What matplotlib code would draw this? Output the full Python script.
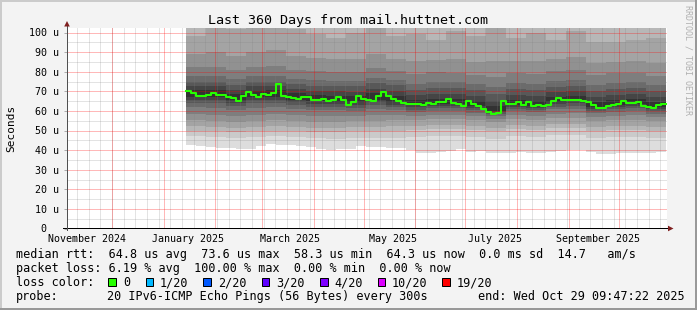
import numpy as np
import pandas as pd
import matplotlib
matplotlib.use("Agg")
import matplotlib.pyplot as plt
import matplotlib.transforms as mtransforms
from matplotlib.patches import Rectangle, Polygon
from matplotlib.ticker import NullLocator

MONO = "DejaVu Sans Mono"
W, H = 697, 310

# time window of the graph (grid lines sit on local month / week starts)
AXIS_START = pd.Timestamp("2024-11-04 05:00")
AXIS_END = pd.Timestamp("2025-10-30 05:00")
DATA_START = pd.Timestamp("2025-01-14 14:00")
Y_MAX = 102.5

# median rtt (us), one value per 3 days
median_rtt = [70.0, 69.0, 67.8, 67.6, 68.1, 69.3, 68.3, 68.1, 67.3, 66.4,
              65.2, 67.8, 69.6, 68.3, 67.1, 68.5, 68.1, 69.2, 73.6, 67.6,
              67.3, 66.8, 66.1, 67.3, 67.1, 65.6, 65.8, 65.9, 65.0, 65.6,
              67.3, 65.4, 62.9, 64.7, 67.8, 66.3, 65.4, 65.2, 67.6, 69.4,
              67.8, 66.1, 64.9, 64.0, 63.7, 63.3, 63.5, 63.0, 63.9, 63.7,
              64.7, 64.6, 66.3, 64.2, 63.3, 62.4, 64.9, 63.7, 62.6, 61.0,
              59.6, 58.6, 59.0, 65.0, 63.7, 63.5, 64.7, 63.0, 64.6, 62.6,
              63.0, 62.4, 63.0, 64.9, 66.4, 65.4, 65.4, 65.8, 65.4, 64.9,
              64.7, 63.0, 61.4, 61.5, 62.6, 63.0, 63.7, 64.9, 64.2, 64.2,
              64.7, 62.6, 62.0, 61.4, 63.0, 63.7]

# fastest ping (rank 1 of 20), one value per 6 days
ping01 = [42.6, 42.1, 41.8, 41.3, 40.9, 40.4, 40.6, 42.0, 43.1, 42.6,
          42.4, 42.1, 41.8, 40.4, 40.1, 40.4, 40.6, 42.0, 41.8, 41.5,
          40.9, 40.9, 40.1, 38.3, 38.7, 39.2, 39.7, 40.4, 39.2, 39.7,
          38.3, 38.3, 38.7, 39.2, 38.7, 38.3, 39.2, 39.5, 40.1, 40.1,
          39.2, 38.0, 38.0, 38.3, 38.7, 38.3, 38.7, 39.2]

# ping ranks 2..17, one value per 12 days (ranks 18-20 are above the scale)
ping02 = [47, 46.5, 46, 46.5, 47, 46.5, 46, 45.5, 46, 46, 46, 46.5, 47, 47, 46.5, 45.5, 47, 46.5, 47.5, 47.5, 46, 46.5, 46.5, 46]
ping03 = [50, 49.5, 49, 49.5, 50, 49.5, 49, 49, 49.5, 49.5, 50, 50.5, 51, 51, 50.5, 49.5, 51, 50.5, 51.5, 51.5, 50, 50.5, 50.5, 50]
ping04 = [52.5, 52, 51.5, 52, 52.5, 52, 51.5, 51.5, 52, 52, 52.5, 52.5, 53, 53, 52.5, 51.5, 53, 52.5, 53.5, 53.5, 52, 52.5, 52.5, 52]
ping05 = [55.5, 55, 54.5, 55, 55.5, 55, 54.5, 54.5, 55, 55, 55.5, 55.5, 56, 56, 55.5, 54.5, 56, 55.5, 56.5, 56.5, 55, 55.5, 55.5, 55]
ping06 = [58.5, 58, 57.5, 58, 58.5, 58, 57.5, 57.5, 57.5, 58, 57.8, 57.5, 58, 58, 57.5, 56, 58, 57.5, 58.5, 58.8, 57, 57.5, 57.8, 57]
ping07 = [62, 61.7, 60.5, 61.5, 62, 61, 60.5, 60.3, 60.1, 61, 60.3, 59.3, 60, 60, 59.1, 57.3, 59.7, 59.2, 60.8, 61.2, 58.7, 59.6, 59.9, 58.5]
ping08 = [64.2, 64, 62.5, 64, 64.2, 62.8, 62.2, 62, 61.7, 62.8, 61.8, 60.6, 61.4, 61.3, 60.4, 58.2, 61, 60.5, 62.2, 62.7, 60, 60.9, 61.3, 59.8]
ping09 = [65.8, 65.6, 64.1, 65.5, 65.7, 64.3, 63.6, 63.4, 63, 64.3, 63.1, 61.8, 62.6, 62.5, 61.5, 59.2, 62.2, 61.7, 63.4, 63.9, 61.2, 62.1, 62.5, 61]
ping10 = [67.2, 67, 65.5, 66.9, 67, 65.5, 64.9, 64.6, 64.3, 65.5, 64.4, 62.8, 63.6, 63.5, 62.5, 60.2, 63.1, 62.6, 64.3, 64.8, 62.1, 63, 63.4, 61.9]
ping11 = [70.6, 70.5, 68.8, 70.4, 70.5, 68.9, 68.1, 67.8, 67.4, 68.9, 67.7, 65.4, 66.2, 66.1, 65.1, 62.6, 65.7, 65.2, 66.9, 67.4, 64.7, 65.6, 66, 64.5]
ping12 = [72.6, 72.5, 70.8, 72.5, 72.5, 71, 70.2, 70, 69.7, 71.2, 70.2, 67.9, 68.7, 68.6, 67.6, 65.2, 68.2, 67.7, 69.4, 69.9, 67.2, 68.1, 68.5, 67]
ping13 = [75, 75, 73.2, 75, 75, 73.5, 72.7, 72.5, 72.5, 74, 73, 70.9, 71.7, 71.6, 70.6, 68.5, 71.2, 70.7, 72.4, 72.9, 70.2, 71.1, 71.5, 70]
ping14 = [78, 78, 76.3, 78, 78, 76.5, 75.7, 75.5, 75.5, 77, 76, 73.9, 74.7, 74.6, 73.6, 72, 74.2, 73.7, 75.4, 75.9, 73.2, 74.1, 74.5, 73]
ping15 = [82.5, 82.5, 81, 82.5, 83, 81, 80.3, 80, 80, 82, 80.5, 78.9, 79.7, 79.5, 78.5, 77.5, 79.2, 78.7, 80.4, 80.9, 78.2, 79.1, 79.5, 78]
ping16 = [89, 90, 88, 90, 91, 88, 87, 86.5, 86.5, 89, 86.5, 85.5, 86, 86.5, 85, 85.5, 85.5, 85.5, 86.5, 87.5, 84.5, 85, 85.5, 84.5]
ping17 = [98, 103, 102, 104, 105, 102, 99, 97, 100, 103, 98, 99, 96, 101, 98, 103, 97, 100, 96, 101, 95, 95, 96, 97]

Y_TICKS = [0, 10, 20, 30, 40, 50, 60, 70, 80, 90, 100]
Y_TICK_LABELS = ["0  ", "10 u", "20 u", "30 u", "40 u", "50 u", "60 u", "70 u", "80 u", "90 u", "100 u"]
MONTH_LABELS = ["November 2024", "January 2025", "March 2025", "May 2025", "July 2025", "September 2025"]
MONTH_LABEL_DATES = ["2024-11-16", "2025-01-16", "2025-03-18", "2025-05-19", "2025-07-19", "2025-09-19"]

LOSS_LABELS = ["0", "1/20", "2/20", "3/20", "4/20", "10/20", "19/20"]
LOSS_COLORS = ["#26ff00", "#00b8ff", "#0059ff", "#5e00ff", "#7e00ff", "#dd00ff", "#ff0000"]
LOSS_BOX_X = [108.3, 145.7, 203.3, 261.7, 320.0, 377.7, 442.3]
LOSS_TEXT_X = [122.8, 159.5, 217.8, 276.2, 334.5, 391.8, 456.8]

LINE_RTT = "median rtt:  64.8 us avg  73.6 us max  58.3 us min  64.3 us now  0.0 ms sd  14.7   am/s"
LINE_LOSS = "packet loss: 6.19 % avg  100.00 % max  0.00 % min  0.00 % now"


def fx(x):
    return x / W


def fy(y):
    return 1 - y / H


def edges(step_days, n):
    return DATA_START + pd.to_timedelta(np.arange(n + 1) * step_days, unit="D")


def stair(v):
    v = np.asarray(v, float)
    return np.append(v, v[-1])


fig = plt.figure(figsize=(W / 100, H / 100), dpi=100, facecolor="#f3f3f3")
ax = fig.add_axes([67 / W, 81.5 / H, 600 / W, (Y_MAX * 1.96) / H])
ax.set_facecolor("white")

# smoke: nested pairs of ping ranks, lightest outside, darkest round the median
t6 = edges(6, len(ping01))
t12 = edges(12, len(ping02))
lows = [ping02, ping03, ping04, ping05, ping06, ping07, ping08, ping09, ping10]
highs = [None, None, ping17, ping16, ping15, ping14, ping13, ping12, ping11]


def gray(i):
    g = int(190 / 10 * (10 - i)) + 50
    return "#%02x%02x%02x" % (g, g, g)


ax.fill_between(t6, stair(ping01), Y_MAX + 5, step="post", color=gray(1), lw=0, zorder=1)
for i, (lo, hi) in enumerate(zip(lows, highs), start=2):
    top = Y_MAX + 5 if hi is None else stair(hi)
    ax.fill_between(t12, stair(lo), top, step="post", color=gray(i), lw=0, zorder=1)

t3 = edges(3, len(median_rtt))
ax.step(t3, stair(median_rtt), where="post", color="#26ff00", lw=1.5, zorder=3)

ax.set_xlim(AXIS_START, AXIS_END)
ax.set_ylim(0, Y_MAX)

# faint grid: weeks (Sundays) and 5 u steps in grey, months and 10 u steps in red
thin = dict(linestyle="-", linewidth=0.72, zorder=2.5)
months = pd.date_range(AXIS_START, AXIS_END, freq="MS")
weeks = [d for d in pd.date_range(AXIS_START, AXIS_END, freq="W-SUN") if d.normalize() not in months]
for d in weeks:
    ax.axvline(d, color="#808080", alpha=0.22, **thin)
for v in range(5, 100, 10):
    ax.axhline(v, color="#808080", alpha=0.22, **thin)
for d in months:
    ax.axvline(d, color="#ff0000", alpha=0.28, **thin)
for v in Y_TICKS[1:]:
    ax.axhline(v, color="#ff0000", alpha=0.28, **thin)

ax.set_yticks(Y_TICKS)
ax.set_yticklabels(Y_TICK_LABELS)
ax.xaxis.set_major_locator(NullLocator())
ax.xaxis.set_minor_locator(NullLocator())
ax.tick_params(axis="y", which="both", length=2.2, width=0.7, color="#aaaaaa",
               pad=3.7, labelsize=7.2, labelfontfamily=MONO)
for sp in ax.spines.values():
    sp.set_visible(False)

# month labels, centred in their months
trans = mtransforms.blended_transform_factory(ax.transData, fig.transFigure)
for d, lab in zip(MONTH_LABEL_DATES, MONTH_LABELS):
    ax.text(pd.Timestamp(d), fy(241.7), lab, transform=trans, ha="center", va="baseline",
            fontsize=7.2, family=MONO, clip_on=False)

ident = mtransforms.IdentityTransform()


def px_rect(x, y, w, h, color, **kw):
    fig.add_artist(Rectangle((x, H - y - h), w, h, transform=ident, facecolor=color, **kw))


# axis lines and arrows
px_rect(63, 228, 606, 1, "black", lw=0)
px_rect(66.5, 25, 1, 206, "#505050", lw=0)
fig.add_artist(Polygon([(64.2, H - 26.5), (69.8, H - 26.5), (67, H - 21)], closed=True,
                       transform=ident, facecolor="#7f1f1f", lw=0))
fig.add_artist(Polygon([(668, H - 225.7), (668, H - 231.3), (673.5, H - 228.5)], closed=True,
                       transform=ident, facecolor="#7f1f1f", lw=0))

# frame
px_rect(0, 0, W, 2, "#cbcbcb", lw=0)
px_rect(0, 0, 2, H, "#cbcbcb", lw=0)
px_rect(W - 2, 0, 2, H, "#999999", lw=0)
px_rect(0, H - 2, W, 2, "#999999", lw=0)

fig.text(fx(347.5), fy(24), "Last 360 Days from mail.huttnet.com", ha="center", va="baseline",
         fontsize=9.6, family=MONO)
fig.text(fx(11), fy(128), "Seconds", rotation=90, ha="center", va="center", fontsize=8, family=MONO)
fig.text(fx(688), fy(60), "RRDTOOL / TOBI OETIKER", rotation=270, ha="center", va="center",
         fontsize=6, family=MONO, color="#b0b0b0")

# legend
fig.text(fx(16), fy(258.3), LINE_RTT, ha="left", va="baseline", fontsize=8.5, family=MONO)
fig.text(fx(16), fy(272), LINE_LOSS, ha="left", va="baseline", fontsize=8.5, family=MONO)
fig.text(fx(16), fy(286), "loss color:", ha="left", va="baseline", fontsize=8.5, family=MONO)
for bx, tx, lab, col in zip(LOSS_BOX_X, LOSS_TEXT_X, LOSS_LABELS, LOSS_COLORS):
    px_rect(bx, 277.5, 7.5, 8.5, col, edgecolor="black", lw=0.72)
    fig.text(fx(tx), fy(286), lab, ha="left", va="baseline", fontsize=8.5, family=MONO)
fig.text(fx(16), fy(300), "probe:", ha="left", va="baseline", fontsize=8.5, family=MONO)
fig.text(fx(107), fy(300), "20 IPv6-ICMP Echo Pings (56 Bytes) every 300s", ha="left",
         va="baseline", fontsize=8.5, family=MONO)
fig.text(fx(477.5), fy(300), "end: Wed Oct 29 09:47:22 2025", ha="left", va="baseline",
         fontsize=8.5, family=MONO)

fig.savefig("out.png", dpi=100, facecolor=fig.get_facecolor())
